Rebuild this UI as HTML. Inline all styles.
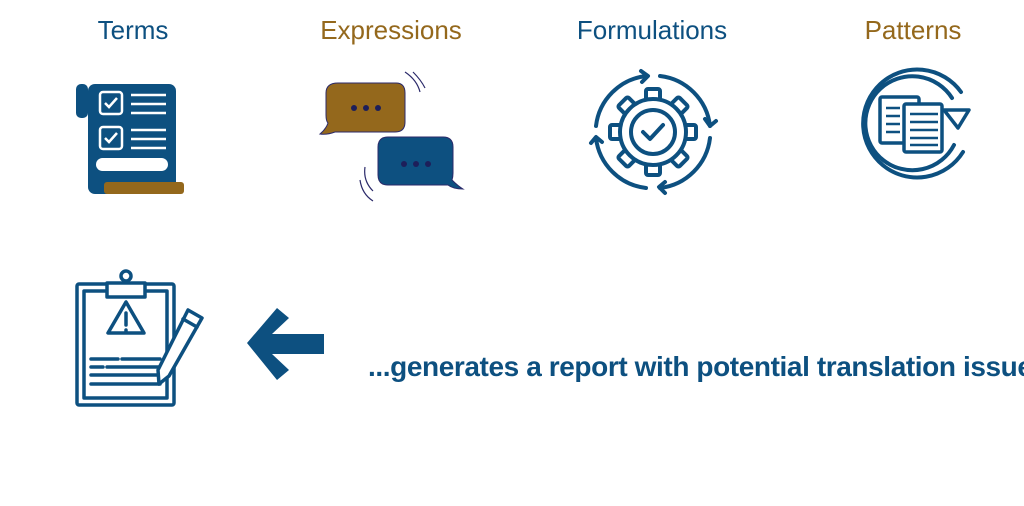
<!DOCTYPE html>
<html><head><style>
body{margin:0;background:#fff;width:1024px;height:506px;overflow:hidden;font-family:"Liberation Sans",sans-serif}
.t{position:absolute;top:15px;font-size:26px;transform:translateX(-50%);white-space:nowrap}
.b{color:#0d5080}.g{color:#94681c}
</style></head><body>
<div class="t b" style="left:133px">Terms</div>
<div class="t g" style="left:391px">Expressions</div>
<div class="t b" style="left:652px">Formulations</div>
<div class="t g" style="left:913px">Patterns</div>
<div style="position:absolute;left:368px;top:351px;font-size:28px;font-weight:bold;color:#0d5080;white-space:nowrap;letter-spacing:-0.4px">...generates a report with potential translation issues</div>
<svg width="1024" height="506" style="position:absolute;left:0;top:0">
<g fill="#0d5080">
<rect x="76" y="84" width="12" height="34" rx="5"/>
<rect x="88" y="84" width="88" height="110" rx="7"/>
<rect x="104" y="182" width="80" height="12" rx="3" fill="#94681c"/>
</g>
<g fill="none" stroke="#fff" stroke-width="2.5">
<rect x="100" y="92" width="22" height="22" rx="3"/><rect x="100" y="127" width="22" height="22" rx="3"/>
<path d="M105 103l4 4 8-9M105 138l4 4 8-9"/>
<path d="M131 95h35M131 104h35M131 113h35M131 130h35M131 139h35M131 148h35"/>
</g>
<rect x="96" y="158" width="72" height="13" rx="6.5" fill="#fff"/>
<path d="M338 83h58q9 0 9 10v29q0 10-10 10h-60q-8 3-15 2q6-5 8-11q-2-2-2-8v-22q0-10 12-10z" fill="#94681c" stroke="#2b2a6a" stroke-width="1"/>
<path d="M388 137h55q10 0 10 10v26q0 4-1 7q6 6 11 9q-10 0-15-4h-60q-10 0-10-10v-28q0-10 10-10z" fill="#0d5080" stroke="#2b2a6a" stroke-width="1"/>
<g fill="#1d1f5a"><circle cx="354" cy="108" r="3"/><circle cx="366" cy="108" r="3"/><circle cx="378" cy="108" r="3"/><circle cx="404" cy="164" r="3"/><circle cx="416" cy="164" r="3"/><circle cx="428" cy="164" r="3"/></g>
<g fill="none" stroke="#2b2a6a" stroke-width="1.2"><path d="M405 72q12 8 15 20M413 72q8 8 12 16M365 167q-2 14 8 24M360 180q2 14 13 21"/></g>
<g fill="#fff" stroke="#0d5080" stroke-width="4" stroke-linejoin="round">
<g transform="translate(653,132)">
<rect x="-7" y="-43" width="14" height="14" rx="2"/>
<rect x="-7" y="-43" width="14" height="14" rx="2" transform="rotate(45)"/>
<rect x="-7" y="-43" width="14" height="14" rx="2" transform="rotate(90)"/>
<rect x="-7" y="-43" width="14" height="14" rx="2" transform="rotate(135)"/>
<rect x="-7" y="-43" width="14" height="14" rx="2" transform="rotate(180)"/>
<rect x="-7" y="-43" width="14" height="14" rx="2" transform="rotate(225)"/>
<rect x="-7" y="-43" width="14" height="14" rx="2" transform="rotate(270)"/>
<rect x="-7" y="-43" width="14" height="14" rx="2" transform="rotate(315)"/>
<circle r="33"/>
<circle r="22" fill="none"/>
</g>
</g>
<g fill="none" stroke="#0d5080" stroke-width="4" stroke-linecap="round" stroke-linejoin="round">
<path d="M643 132l7 7 13-14"/>
<path d="M646 76a57 57 0 0 0-50 50M660 76a57 57 0 0 1 50 50M710 138a57 57 0 0 1-50 50M646 188a57 57 0 0 1-50-50"/>
<path d="M641 71l7 5-6 6M705 119l5 7 6-5M591 143l5-6 6 5M665 182l-6 5 6 6"/>
<path d="M961 92a54 54 0 1 0 2 60"/>
<path d="M952 98a47 47 0 1 0 2 47"/>
<path d="M944 110h25l-11 18z" stroke-width="3.5"/>
<rect x="880" y="97" width="39" height="46" rx="2" fill="#fff" stroke-width="3.5"/><rect x="904" y="104" width="38" height="48" rx="2" fill="#fff" stroke-width="3.5"/>
</g>
<g stroke="#0d5080" stroke-width="2.5"><path d="M886 108h14M886 116h14M886 124h14M886 132h14M910 114h28M910 122h28M910 130h28M910 138h28M910 145h28"/></g>
<g fill="none" stroke="#0d5080" stroke-width="3.5" stroke-linejoin="round" stroke-linecap="round">
<rect x="77" y="284" width="97" height="121" rx="2"/><rect x="84" y="291" width="83" height="107"/>
<rect x="107" y="283" width="38" height="14" fill="#fff"/><circle cx="126" cy="276" r="5"/>
<path d="M126 302l-18 31h36z"/><path d="M126 313v12M126 330v2"/>
<path d="M91 359h27M122 359h38M91 367h12M107 367h53M91 375h69M91 384h69"/>
<path d="M188 310l14 8-33 58-10 8 -1-14z" fill="#fff"/><path d="M183 319l14 8"/>
</g>
<path d="M247 343l30-35 12 10-17 16h52v20h-52l17 16-12 10z" fill="#0d5080"/>
</svg>
</body></html>
